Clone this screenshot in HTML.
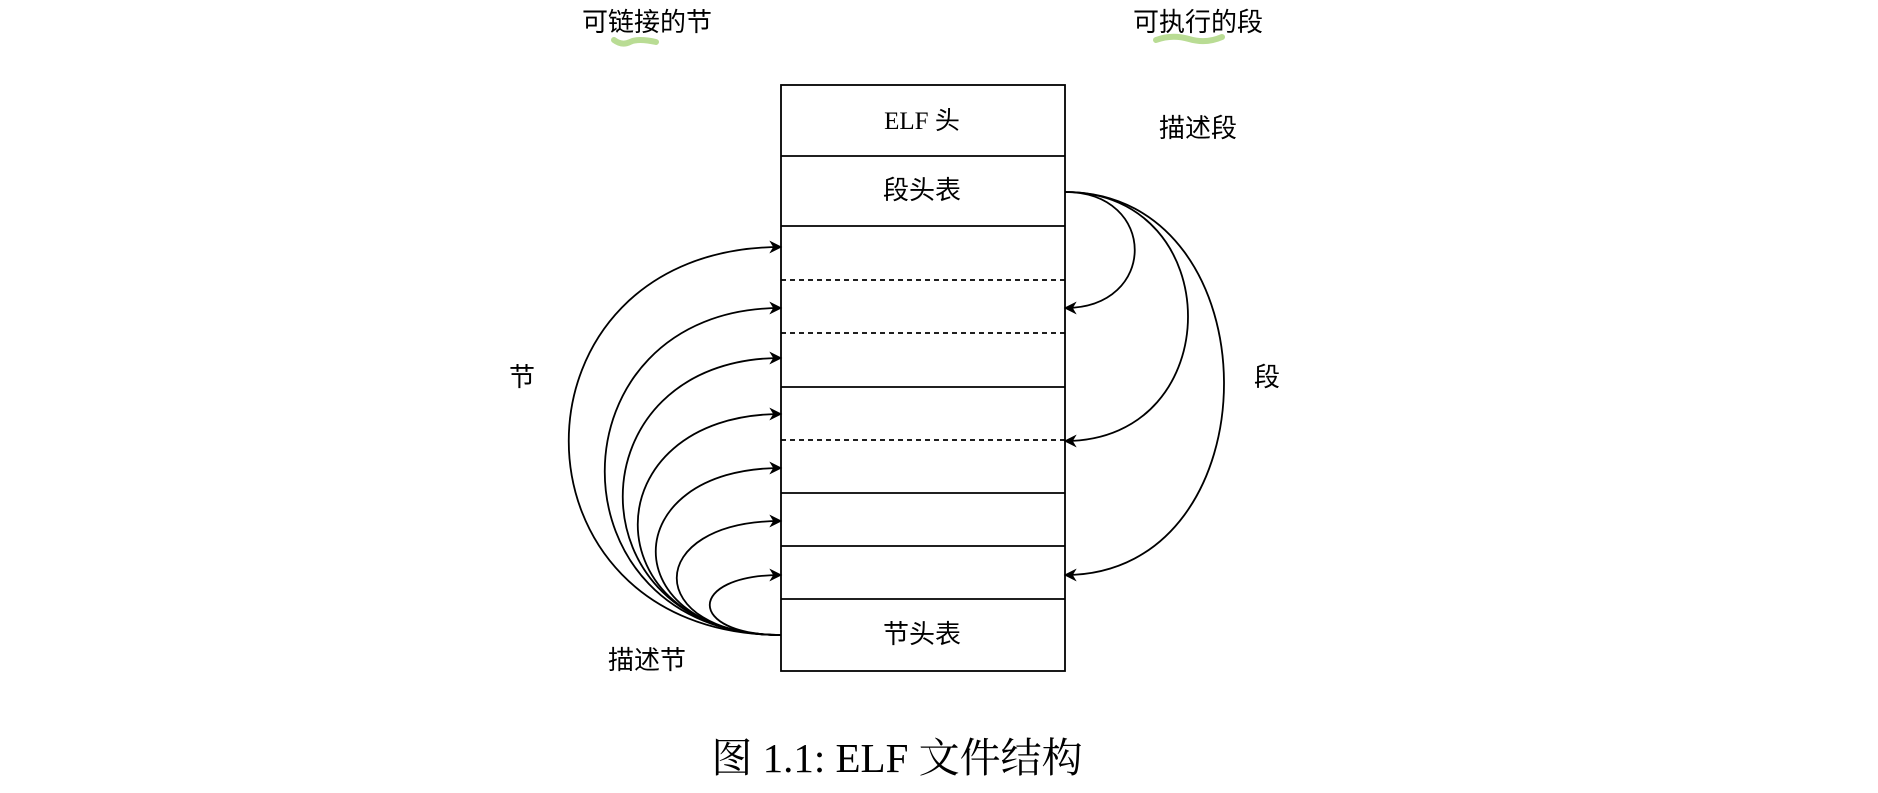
<!DOCTYPE html>
<html><head><meta charset="utf-8"><style>
body{margin:0;background:#fff;width:1878px;height:788px;overflow:hidden}
text{font-family:"Liberation Sans","Noto Sans CJK SC",sans-serif;fill:#000}
</style></head><body>
<svg width="1878" height="788" xmlns="http://www.w3.org/2000/svg">
<defs><marker id="b" viewBox="0 0 10 10" refX="9" refY="5" markerWidth="13" markerHeight="13" markerUnits="userSpaceOnUse" orient="auto"><path d="M0,0 L10,5 L0,10 L3,5 z" fill="#000"/></marker></defs>
<path d="M614,40 q8,6 16,2 t26,0" stroke="#b9dc94" stroke-width="6" fill="none" stroke-linecap="round"/>
<path d="M1156,40 q16,-6 33,-1 t33,-2" stroke="#b9dc94" stroke-width="6" fill="none" stroke-linecap="round"/>
<text x="647" y="31" font-size="26" text-anchor="middle">可链接的节</text>
<text x="1198" y="31" font-size="26" text-anchor="middle">可执行的段</text>
<text x="1198" y="137" font-size="26" text-anchor="middle">描述段</text>
<text x="522" y="386" font-size="26" text-anchor="middle">节</text>
<text x="1267" y="386" font-size="26" text-anchor="middle">段</text>
<text x="647" y="669" font-size="26" text-anchor="middle">描述节</text>
<g stroke="#000" stroke-width="1.8" fill="none">
<rect x="781" y="85" width="284" height="586"/>
<line x1="781" y1="156" x2="1065" y2="156"/>
<line x1="781" y1="226" x2="1065" y2="226"/>
<line x1="781" y1="387" x2="1065" y2="387"/>
<line x1="781" y1="493" x2="1065" y2="493"/>
<line x1="781" y1="546" x2="1065" y2="546"/>
<line x1="781" y1="599" x2="1065" y2="599"/>
<g stroke-dasharray="5,4"><line x1="781" y1="280" x2="1065" y2="280"/><line x1="781" y1="333" x2="1065" y2="333"/><line x1="781" y1="440" x2="1065" y2="440"/></g>
<path marker-end="url(#b)" d="M781,635 C498,635 498,247 781,247"/>
<path marker-end="url(#b)" d="M781,635 C546,635 546,308 781,308"/>
<path marker-end="url(#b)" d="M781,635 C570,635 570,358 781,358"/>
<path marker-end="url(#b)" d="M781,635 C590,635 590,414 781,414"/>
<path marker-end="url(#b)" d="M781,635 C614,635 614,468 781,468"/>
<path marker-end="url(#b)" d="M781,635 C642,635 642,521 781,521"/>
<path marker-end="url(#b)" d="M781,635 C686,635 686,575 781,575"/>
<path marker-end="url(#b)" d="M1065,192 C1158,192 1158,308 1065,308"/>
<path marker-end="url(#b)" d="M1065,192 C1229,192 1229,441 1065,441"/>
<path marker-end="url(#b)" d="M1065,192 C1277,192 1277,575 1065,575"/>
</g>
<text x="922" y="129" font-size="25" text-anchor="middle" style="font-family:'Liberation Serif','Noto Sans CJK SC',serif">ELF 头</text>
<text x="922" y="199" font-size="26" text-anchor="middle">段头表</text>
<text x="922" y="643" font-size="26" text-anchor="middle">节头表</text>
<text x="897" y="772" font-size="41" text-anchor="middle" style="font-family:'Liberation Serif','Noto Serif CJK SC',serif">图 1.1: ELF 文件结构</text>
</svg>
</body></html>
